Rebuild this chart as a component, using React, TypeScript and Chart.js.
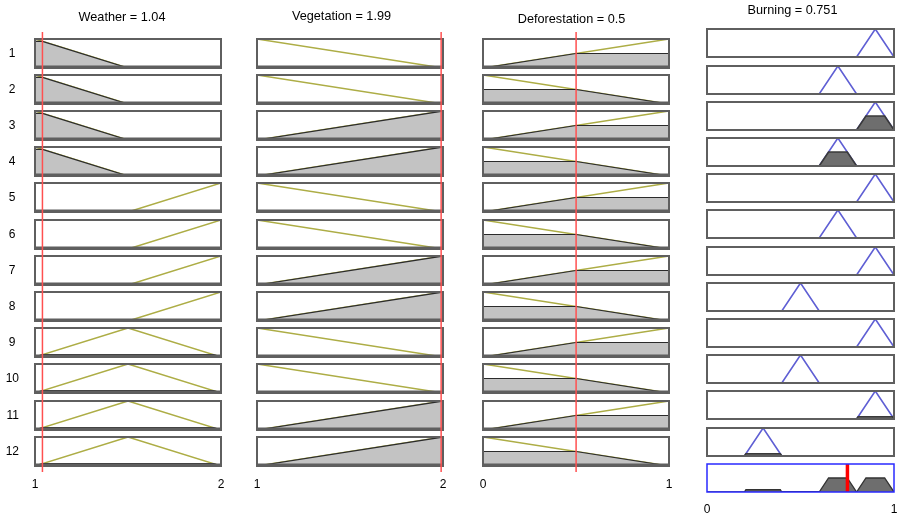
import React, { useEffect, useRef } from 'react';
import { Chart, registerables } from 'chart.js';

Chart.register(...registerables);
Chart.defaults.font.family = '"Liberation Sans", Arial, Helvetica, sans-serif';

// ---------------- data ----------------
const ruleLabels = ['1', '2', '3', '4', '5', '6', '7', '8', '9', '10', '11', '12'];
const inputNames = ['Weather', 'Vegetation', 'Deforestation'];
const inputValues = [1.04, 1.99, 0.5];
const inputRanges = [[1, 2], [1, 2], [0, 1]];
const outputName = 'Burning';
const outputValue = 0.751;
const outputRange = [0, 1];

// membership function breakpoints [x, membership]
const weatherTerms: Record<string, number[][]> = {
  low: [[1, 1], [1.5, 0], [2, 0]],
  medium: [[1, 0], [1.5, 1], [2, 0]],
  high: [[1, 0], [1.5, 0], [2, 1]],
};
const vegetationTerms: Record<string, number[][]> = {
  low: [[1, 1], [2, 0]],
  high: [[1, 0], [2, 1]],
};
const deforestationTerms: Record<string, number[][]> = {
  low: [[0, 1], [1, 0]],
  high: [[0, 0], [1, 1]],
};
// triangular output terms [a, b, c]
const burningTerms: Record<string, number[]> = {
  low: [0.2, 0.3, 0.4],
  medium: [0.4, 0.5, 0.6],
  high: [0.6, 0.7, 0.8],
  veryHigh: [0.8, 0.9, 1.0],
};

const ruleWeather = ['low', 'low', 'low', 'low', 'high', 'high', 'high', 'high', 'medium', 'medium', 'medium', 'medium'];
const ruleVegetation = ['low', 'low', 'high', 'high', 'low', 'low', 'high', 'high', 'low', 'low', 'high', 'high'];
const ruleDeforestation = ['high', 'low', 'high', 'low', 'high', 'low', 'high', 'low', 'high', 'low', 'high', 'low'];
const ruleBurning = ['veryHigh', 'high', 'veryHigh', 'high', 'veryHigh', 'high', 'veryHigh', 'medium', 'veryHigh', 'medium', 'veryHigh', 'low'];

// ---------------- layout ----------------
const INPUT_LEFT = [35, 257, 483];
const INPUT_W = 186;
const INPUT_TOP0 = 38.5;
const INPUT_H = 29;
const ROW_PITCH = 36.2;
const OUT_LEFT = 707;
const OUT_W = 187;
const OUT_TOP0 = 29.3;
const OUT_H = 28;
const PAD = 3;
const TITLE_SHIFT = [6, 8.5, 4.6, 8];
const TITLE_MID = [17.7, 16.2, 19.5, 10.5];
const TITLE_LH = 15;
const RED_TOP = 32;
const RED_BOTTOM = 472;

// ---------------- helpers ----------------
type XY = { x: number; y: number };
const toXY = (pts: number[][]): XY[] => pts.map(([x, y]) => ({ x, y }));

function membership(pts: number[][], v: number): number {
  for (let k = 0; k < pts.length - 1; k++) {
    const [x0, y0] = pts[k];
    const [x1, y1] = pts[k + 1];
    if (v >= x0 && v <= x1) {
      if (x1 === x0) return Math.max(y0, y1);
      return y0 + ((y1 - y0) * (v - x0)) / (x1 - x0);
    }
  }
  return 0;
}

function clipAt(pts: number[][], level: number): number[][] {
  const out: number[][] = [];
  for (let k = 0; k < pts.length; k++) {
    const [x0, y0] = pts[k];
    out.push([x0, Math.min(y0, level)]);
    if (k < pts.length - 1) {
      const [x1, y1] = pts[k + 1];
      if ((y0 - level) * (y1 - level) < 0) {
        const t = (level - y0) / (y1 - y0);
        out.push([x0 + t * (x1 - x0), level]);
      }
    }
  }
  return out;
}

const inputTermSets = [weatherTerms, vegetationTerms, deforestationTerms];
const ruleInputs = [ruleWeather, ruleVegetation, ruleDeforestation];
const degrees = ruleInputs.map((col, c) => col.map((t) => membership(inputTermSets[c][t], inputValues[c])));
const strengths = ruleLabels.map((_, i) => Math.min(degrees[0][i], degrees[1][i], degrees[2][i]));

function outputLine(term: string): number[][] {
  const [a, b, c] = burningTerms[term];
  return [[outputRange[0], 0], [a, 0], [b, 1], [c, 0], [outputRange[1], 0]];
}
function outputClipped(term: string, s: number): number[][] {
  const [a, b, c] = burningTerms[term];
  return clipAt([[a, 0], [b, 1], [c, 0]], s);
}
function aggregate(): number[][] {
  const terms = Object.keys(burningTerms).sort((p, q) => burningTerms[p][0] - burningTerms[q][0]);
  const pts: number[][] = [[outputRange[0], 0]];
  terms.forEach((t) => {
    let s = 0;
    ruleBurning.forEach((r, i) => {
      if (r === t) s = Math.max(s, strengths[i]);
    });
    pts.push(...outputClipped(t, s));
  });
  pts.push([outputRange[1], 0]);
  return pts;
}

function framePlugin(color: string, width: number, bottomBand: number) {
  return {
    id: 'frame',
    afterDatasetsDraw(chart: any) {
      const { ctx, chartArea: a } = chart;
      ctx.save();
      ctx.strokeStyle = color;
      ctx.lineWidth = width;
      ctx.strokeRect(a.left, a.top, a.right - a.left, a.bottom - a.top);
      if (bottomBand > 0) {
        ctx.lineWidth = bottomBand;
        ctx.beginPath();
        ctx.moveTo(a.left, a.bottom - bottomBand / 2 + 1);
        ctx.lineTo(a.right, a.bottom - bottomBand / 2 + 1);
        ctx.stroke();
      }
      ctx.restore();
    },
  };
}

const commonOptions = {
  animation: false,
  responsive: false,
  maintainAspectRatio: false,
  events: [] as any[],
  elements: { point: { radius: 0 }, line: { tension: 0 } },
};
const quietPlugins = { legend: { display: false }, tooltip: { enabled: false }, title: { display: false } };

function inputCellConfig(c: number, i: number): any {
  const pts = inputTermSets[c][ruleInputs[c][i]];
  const deg = degrees[c][i];
  const [xmin, xmax] = inputRanges[c];
  const withLabel = c === 0;
  const yAxis = withLabel
    ? {
        min: 0,
        max: 1,
        position: 'left',
        grid: { display: false, drawTicks: false },
        border: { display: false },
        ticks: {
          color: '#000',
          font: { size: 12 },
          crossAlign: 'center',
          padding: ruleLabels[i].length > 1 ? 16 : 19.5,
          callback: () => ruleLabels[i],
        },
        afterBuildTicks: (s: any) => {
          s.ticks = [{ value: 0.5 }];
        },
        afterFit: (s: any) => {
          s.width = INPUT_LEFT[0];
          s.paddingTop = 0;
          s.paddingBottom = 0;
        },
      }
    : { min: 0, max: 1, display: false };
  return {
    type: 'line',
    data: {
      datasets: [
        {
          data: toXY(clipAt(pts, deg)),
          borderColor: '#2b2b2b',
          borderWidth: 1.2,
          backgroundColor: '#c3c3c3',
          fill: 'origin',
          pointRadius: 0,
        },
        { data: toXY(pts), borderColor: '#adad45', borderWidth: 1.5, fill: false, pointRadius: 0 },
      ],
    },
    options: {
      ...commonOptions,
      layout: { padding: { left: withLabel ? 0 : PAD, right: PAD, top: PAD, bottom: PAD } },
      plugins: quietPlugins,
      scales: { x: { type: 'linear', min: xmin, max: xmax, display: false }, y: yAxis },
    },
    plugins: [framePlugin('#5f5f5f', 2, 3.5)],
  };
}

function outputCellConfig(i: number): any {
  const term = ruleBurning[i];
  return {
    type: 'line',
    data: {
      datasets: [
        {
          data: toXY(outputClipped(term, strengths[i])),
          borderColor: '#3a3a3a',
          borderWidth: 1.6,
          backgroundColor: '#6e6e6e',
          fill: 'origin',
          pointRadius: 0,
        },
        { data: toXY(outputLine(term)), borderColor: '#5f5fd4', borderWidth: 1.6, fill: false, pointRadius: 0 },
      ],
    },
    options: {
      ...commonOptions,
      layout: { padding: PAD },
      plugins: quietPlugins,
      scales: {
        x: { type: 'linear', min: outputRange[0], max: outputRange[1], display: false },
        y: { min: 0, max: 1, display: false },
      },
    },
    plugins: [framePlugin('#5f5f5f', 2, 0)],
  };
}

function aggregateConfig(): any {
  return {
    type: 'line',
    data: {
      datasets: [
        {
          data: [{ x: outputValue, y: 0 }, { x: outputValue, y: 1 }],
          borderColor: '#ff0000',
          borderWidth: 3.5,
          fill: false,
          pointRadius: 0,
        },
        {
          data: toXY(aggregate()),
          borderColor: '#333333',
          borderWidth: 1.3,
          backgroundColor: '#6e6e6e',
          fill: 'origin',
          pointRadius: 0,
        },
      ],
    },
    options: {
      ...commonOptions,
      layout: { padding: PAD },
      plugins: quietPlugins,
      scales: {
        x: { type: 'linear', min: outputRange[0], max: outputRange[1], display: false },
        y: { min: 0, max: 1, display: false },
      },
    },
    plugins: [framePlugin('#2a2aff', 1.5, 0)],
  };
}

function overlayConfig(col: number, canvasH: number, bottom: number, tickPad: number, pbTitle: number): any {
  const isOutput = col === 3;
  const [xmin, xmax] = isOutput ? outputRange : inputRanges[col];
  const name = isOutput ? outputName : inputNames[col];
  const value = isOutput ? outputValue : inputValues[col];
  const titlePadTop = TITLE_MID[col] - TITLE_LH / 2;
  const axisH = 14.4 + 2 * tickPad;
  const padBottom = canvasH - bottom - axisH;
  return {
    type: 'line',
    data: {
      datasets: isOutput
        ? []
        : [
            {
              data: [{ x: value, y: 0 }, { x: value, y: 1 }],
              borderColor: '#ff5050',
              borderWidth: 1.5,
              fill: false,
              pointRadius: 0,
            },
          ],
    },
    options: {
      ...commonOptions,
      layout: { padding: { left: 20, right: 20, top: 0, bottom: padBottom } },
      plugins: {
        legend: { display: false },
        tooltip: { enabled: false },
        title: {
          display: true,
          text: `${name} = ${value}`,
          color: '#000',
          font: { size: 12.7, weight: 'normal', lineHeight: `${TITLE_LH}px` },
          padding: { top: titlePadTop, bottom: pbTitle },
        },
      },
      scales: {
        x: {
          type: 'linear',
          min: xmin,
          max: xmax,
          position: 'bottom',
          grid: { display: false, drawTicks: false },
          border: { display: false },
          ticks: { color: '#000', font: { size: 12 }, padding: tickPad, maxRotation: 0 },
          afterBuildTicks: (s: any) => {
            s.ticks = [{ value: xmin }, { value: xmax }];
          },
        },
        y: {
          min: 0,
          max: 1,
          position: 'left',
          grid: { display: false, drawTicks: false },
          border: { display: false },
          ticks: { display: false },
          afterFit: (s: any) => {
            s.width = 2 * TITLE_SHIFT[col];
          },
        },
      },
    },
  };
}

// ---------------- components ----------------
function ChartBox(props: { left: number; top: number; width: number; height: number; make: () => any; z?: number }) {
  const ref = useRef<HTMLCanvasElement>(null);
  useEffect(() => {
    const chart = new Chart(ref.current as HTMLCanvasElement, props.make());
    return () => chart.destroy();
  }, []);
  return (
    <canvas
      ref={ref}
      width={props.width}
      height={props.height}
      style={{
        position: 'absolute',
        left: props.left,
        top: props.top,
        width: props.width,
        height: props.height,
        zIndex: props.z ?? 1,
        pointerEvents: 'none',
      }}
    />
  );
}

export default function App() {
  const cells: React.ReactNode[] = [];
  inputNames.forEach((_, c) => {
    ruleLabels.forEach((_, i) => {
      const top = Math.round(INPUT_TOP0 + i * ROW_PITCH);
      const left = c === 0 ? 0 : INPUT_LEFT[c] - PAD;
      const width = c === 0 ? INPUT_LEFT[0] + INPUT_W + PAD : INPUT_W + 2 * PAD;
      cells.push(
        <ChartBox
          key={`in-${c}-${i}`}
          left={left}
          top={top - PAD}
          width={width}
          height={INPUT_H + 2 * PAD}
          make={() => inputCellConfig(c, i)}
        />
      );
    });
  });
  ruleLabels.forEach((_, i) => {
    const top = Math.round(OUT_TOP0 + i * ROW_PITCH);
    cells.push(
      <ChartBox
        key={`out-${i}`}
        left={OUT_LEFT - PAD}
        top={top - PAD}
        width={OUT_W + 2 * PAD}
        height={OUT_H + 2 * PAD}
        make={() => outputCellConfig(i)}
      />
    );
  });
  const aggTop = Math.round(OUT_TOP0 + ruleLabels.length * ROW_PITCH);
  cells.push(
    <ChartBox
      key="agg"
      left={OUT_LEFT - PAD}
      top={aggTop - PAD}
      width={OUT_W + 2 * PAD}
      height={OUT_H + 2 * PAD}
      make={() => aggregateConfig()}
    />
  );

  const overlays: React.ReactNode[] = [];
  inputNames.forEach((_, c) => {
    const shift = TITLE_SHIFT[c];
    const pbTitle = RED_TOP - (TITLE_MID[c] - TITLE_LH / 2) - TITLE_LH;
    overlays.push(
      <ChartBox
        key={`ov-${c}`}
        left={Math.round(INPUT_LEFT[c] - 20 - 2 * shift)}
        top={0}
        width={Math.round(INPUT_W + 40 + 2 * shift)}
        height={519}
        z={2}
        make={() => overlayConfig(c, 519, RED_BOTTOM, 5, pbTitle)}
      />
    );
  });
  overlays.push(
    <ChartBox
      key="ov-out"
      left={Math.round(OUT_LEFT - 20 - 2 * TITLE_SHIFT[3])}
      top={0}
      width={Math.round(OUT_W + 40 + 2 * TITLE_SHIFT[3])}
      height={540}
      z={2}
      make={() => overlayConfig(3, 540, 497.1, 5, 10)}
    />
  );

  return (
    <div
      style={{
        position: 'absolute',
        left: 0,
        top: 0,
        width: 900,
        height: 519,
        overflow: 'hidden',
        background: '#ffffff',
      }}
    >
      {cells}
      {overlays}
    </div>
  );
}
